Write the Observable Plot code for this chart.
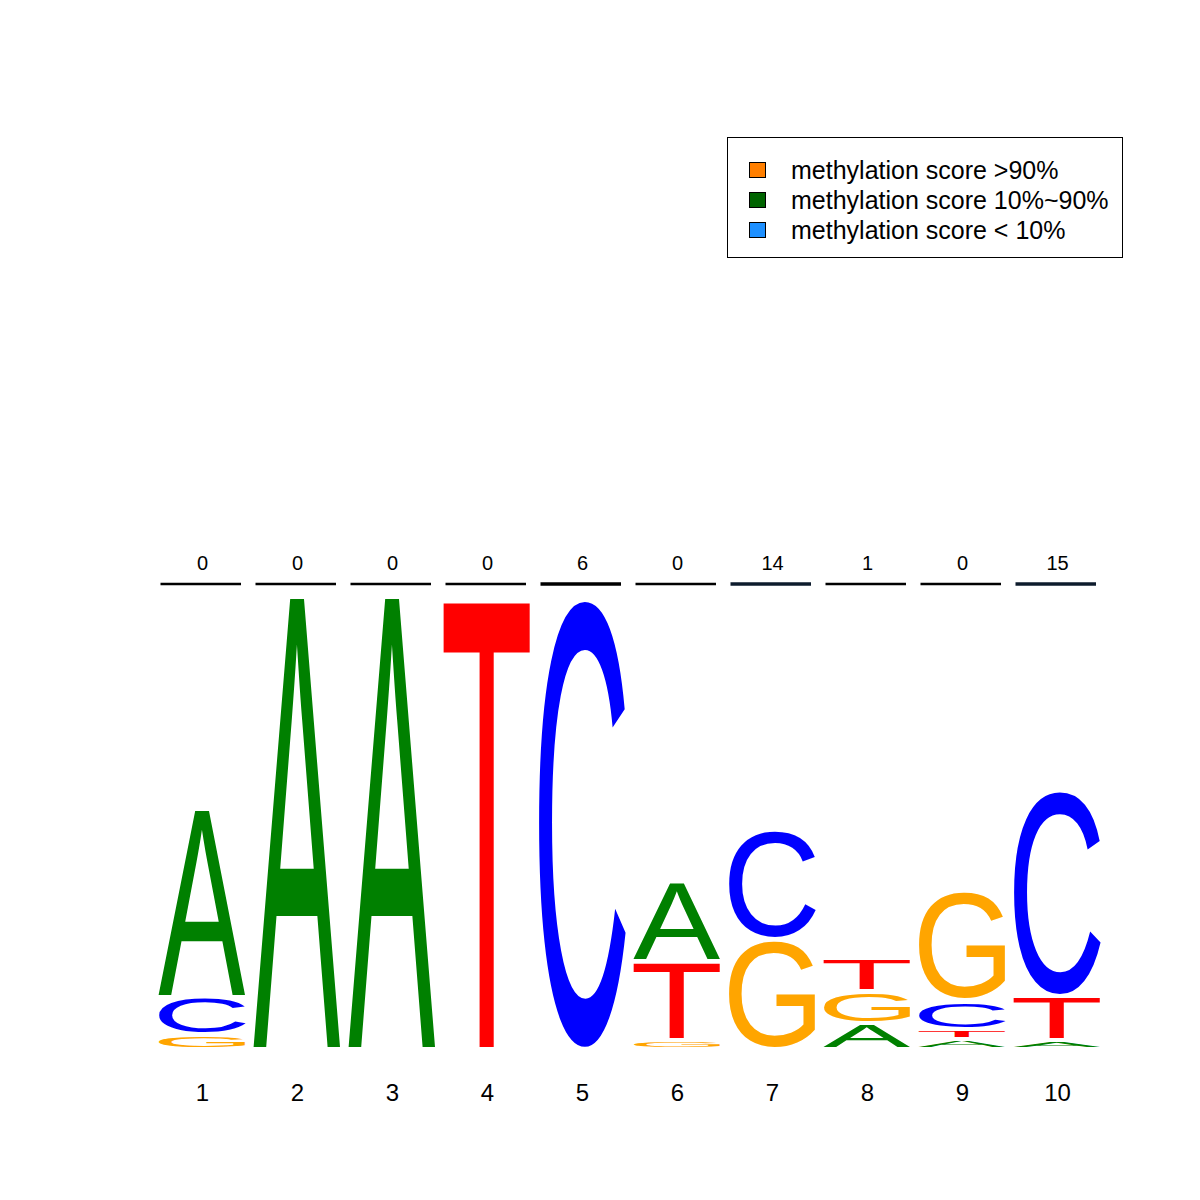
<!DOCTYPE html>
<html>
<head>
<meta charset="utf-8">
<script src="https://cdn.jsdelivr.net/npm/d3@7"></script>
<script src="https://cdn.jsdelivr.net/npm/@observablehq/plot@0.6"></script>
<style>
  html, body { margin: 0; padding: 0; background: #fff; }
  #wrap { position: relative; width: 1200px; height: 1200px; font-family: 'Liberation Sans', Arial, sans-serif; }
  #legend { position: absolute; left: 727px; top: 137px; width: 396px; height: 121px; box-sizing: border-box; border: 1px solid #000; background: #fff; }
  .row { position: absolute; left: 0; height: 30px; display: flex; align-items: center; font-size: 25px; color: #000; white-space: nowrap; }
  .sw { position: absolute; left: 21px; width: 17px; height: 16px; box-sizing: border-box; border: 1px solid #000; }
  .lab { position: absolute; left: 63px; }
</style>
</head>
<body>
<div id="wrap"><div id="chart"></div><div id="legend"></div></div>
<script>
// ---- data (bits per letter at each position) ----
const positions = [1, 2, 3, 4, 5, 6, 7, 8, 9, 10];
const heightA = [0.84, 2.0, 2.0, 0, 0, 0.356, 0, 0.099, 0.027, 0.022];
const heightC = [0.17, 0, 0, 0, 2.0, 0, 0.493, 0, 0.126, 0.924];
const heightG = [0.045, 0, 0, 0, 0, 0.022, 0.471, 0.143, 0.493, 0];
const heightT = [0, 0, 0, 1.995, 0, 0.353, 0, 0.148, 0.045, 0.197];
const methylCounts = [0, 0, 0, 0, 6, 0, 14, 1, 0, 15];
const letterNames = ["A", "C", "G", "T"];
const letterColors = ["#008000", "#0000FF", "#FFA500", "#FF0000"];
const legendLabels = ["methylation score >90%", "methylation score 10%~90%", "methylation score < 10%"];
const legendColors = ["#FF7F00", "#006400", "#1E90FF"];
const methylLineLevel = 2.078;
const methylLabelLevel = 2.17;

// ---- build stacked letter table ----
const rows = [];
positions.forEach((p, i) => {
  const entries = [["A", heightA[i]], ["C", heightC[i]], ["G", heightG[i]], ["T", heightT[i]]]
    .filter(d => d[1] > 0)
    .sort((a, b) => a[1] - b[1]);
  let cum = 0;
  entries.forEach(([letter, h], k) => {
    rows.push({pos: String(p), letter, y1: cum, y2: cum + h, rank: k});
    cum += h;
  });
});
const methyl = positions.map((p, i) => ({pos: String(p), count: methylCounts[i]}));

// ---- glyph ink bounds, measured by rasterising each letter ----
const FS = 200, OX = 100, OY = 300, CW = 400, CH = 400;
const FONT = "'Liberation Sans'";
const metrics = {};
for (const L of letterNames) {
  const cnv = document.createElement("canvas");
  cnv.width = CW; cnv.height = CH;
  const ctx = cnv.getContext("2d");
  ctx.font = FS + "px " + FONT;
  ctx.textAlign = "left";
  ctx.textBaseline = "alphabetic";
  ctx.fillStyle = "#000";
  ctx.fillText(L, OX, OY);
  const data = ctx.getImageData(0, 0, CW, CH).data;
  let minX = CW, maxX = -1, minY = CH, maxY = -1;
  for (let yy = 0; yy < CH; yy++) {
    for (let xx = 0; xx < CW; xx++) {
      if (data[(yy * CW + xx) * 4 + 3] >= 128) {
        if (xx < minX) minX = xx; if (xx > maxX) maxX = xx;
        if (yy < minY) minY = yy; if (yy > maxY) maxY = yy;
      }
    }
  }
  metrics[L] = {l: OX - minX, r: maxX + 1 - OX, a: OY - minY, d: maxY + 1 - OY};
}

// Draw each letter stretched to fill its stacked box (gap of a few px under stacked letters)
const GAP = 4;
function glyphRender(index, scales, values, dimensions, context) {
  const g = document.createElementNS("http://www.w3.org/2000/svg", "g");
  const bw = scales.x.bandwidth();
  for (const i of index) {
    const d = rows[i];
    const m = metrics[d.letter];
    const x = scales.x(d.pos);
    const yTop = scales.y(d.y2);
    const yBot = scales.y(d.y1) - (d.rank > 0 ? GAP : 0);
    const w = bw, h = Math.max(0.5, yBot - yTop);
    const sx = w / (m.l + m.r), sy = h / (m.a + m.d);
    const t = document.createElementNS("http://www.w3.org/2000/svg", "text");
    t.textContent = d.letter;
    t.setAttribute("font-family", FONT);
    t.setAttribute("font-size", String(FS));
    t.setAttribute("text-anchor", "start");
    t.setAttribute("fill", scales.color(d.letter));
    t.setAttribute("transform", `translate(${x + m.l * sx},${yTop + m.a * sy}) scale(${sx},${sy})`);
    g.appendChild(t);
  }
  return g;
}

const chart = Plot.plot({
  width: 1200,
  height: 1200,
  marginLeft: 152.3,
  marginRight: 93.3,
  marginTop: 489.5,
  marginBottom: 153,
  style: {fontFamily: FONT, fontSize: "24px", background: "white"},
  x: {type: "band", domain: positions.map(String), paddingInner: 0.09, paddingOuter: 0.045, label: null},
  y: {domain: [0, 2.5], axis: null},
  color: {domain: letterNames, range: letterColors},
  marks: [
    Plot.barY(rows, {x: "pos", y1: "y1", y2: "y2", fill: "letter", render: glyphRender}),
    Plot.tickY(methyl, {x: "pos", y: () => methylLineLevel, stroke: d => d.count >= 10 ? "#0d1b2c" : "#000", strokeWidth: d => d.count > 5 ? 3.5 : 2.5, insetLeft: 1.5, insetRight: 4}),
    Plot.text(methyl, {x: "pos", y: () => methylLabelLevel, text: d => String(d.count), fontSize: 20, fill: "#000"}),
    Plot.axisX({tickSize: 0, tickPadding: 36, fontSize: 24, label: null})
  ]
});
document.getElementById("chart").appendChild(chart);

// ---- legend ----
const legend = document.getElementById("legend");
legendLabels.forEach((lab, i) => {
  const row = document.createElement("div");
  row.className = "row";
  row.style.top = (17 + i * 30) + "px";
  row.style.width = "100%";
  const sw = document.createElement("div");
  sw.className = "sw";
  sw.style.background = legendColors[i];
  const tx = document.createElement("span");
  tx.className = "lab";
  tx.textContent = lab;
  row.appendChild(sw);
  row.appendChild(tx);
  legend.appendChild(row);
});
</script>
</body>
</html>
